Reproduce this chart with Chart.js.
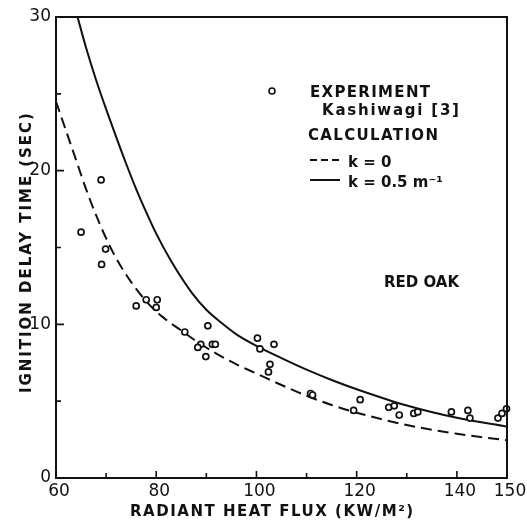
<!DOCTYPE html>
<html>
<head>
<meta charset="utf-8">
<script src="https://cdn.jsdelivr.net/npm/chart.js@4.4.1/dist/chart.umd.min.js"></script>
<style>
  html, body { margin: 0; padding: 0; background: #fff; }
  #wrap { width: 527px; height: 531px; }
</style>
</head>
<body>
<div id="wrap"><canvas id="chart" width="527" height="531"></canvas></div>
<script>
// experiment (Kashiwagi [3]) - radiant heat flux vs ignition delay
const expFlux = [65.0, 69.0, 69.9, 69.1, 76.0, 78.0, 80.2, 80.0, 85.7, 90.3, 88.9, 88.3, 91.2, 91.8, 89.9,
  100.2, 100.7, 103.5, 102.7, 102.4, 110.8, 111.2, 119.4, 120.7, 126.4, 127.5, 128.5, 131.4, 132.2,
  138.9, 142.2, 142.6, 148.2, 149.0, 149.9];
const expTime = [16.0, 19.4, 14.9, 13.9, 11.2, 11.6, 11.6, 11.1, 9.5, 9.9, 8.7, 8.5, 8.7, 8.7, 7.9,
  9.1, 8.4, 8.7, 7.4, 6.9, 5.5, 5.4, 4.4, 5.1, 4.6, 4.7, 4.1, 4.2, 4.3,
  4.3, 4.4, 3.9, 3.9, 4.2, 4.5];

// calculation, k = 0 (dashed)
const k0Flux = [60, 62, 64, 66, 68, 70, 72, 75, 78, 81, 85, 88, 92, 96, 100, 105, 110, 115, 120, 130, 140, 150];
const k0Time = [24.5, 22.6, 20.7, 18.8, 17.1, 15.6, 14.3, 12.75, 11.5, 10.55, 9.6, 8.9, 8.1, 7.4, 6.8, 6.05, 5.35, 4.75, 4.25, 3.45, 2.88, 2.45];

// calculation, k = 0.5 m^-1 (solid)
const k05Flux = [64.3, 66, 68, 70, 72, 74, 76, 78, 80, 83, 87, 90, 93, 96, 100, 105, 110, 115, 120, 130, 140, 150];
const k05Time = [30, 28.0, 25.9, 24.0, 22.2, 20.45, 18.8, 17.3, 15.9, 14.1, 12.1, 10.95, 10.1, 9.35, 8.6, 7.8, 7.05, 6.38, 5.78, 4.72, 3.92, 3.34];

const xTicks = [60, 70, 80, 90, 100, 110, 120, 130, 140, 150];
const xLabels = [60, 80, 100, 120, 140, 150];
const yTicks = [0, 5, 10, 15, 20, 25, 30];
const yLabels = [0, 10, 20, 30];

const FONT = "'DejaVu Sans', sans-serif";
const INK = '#111';

const pts = (xs, ys) => xs.map((x, i) => ({ x: x, y: ys[i] }));

// draw text stretched to a given width with letter spacing
function spaced(ctx, text, x, y, width, size) {
  ctx.font = 'bold ' + size + 'px ' + FONT;
  ctx.letterSpacing = '0px';
  const w0 = ctx.measureText(text).width;
  const n = [...text].length;
  const ls = Math.max(0, (width - w0) / Math.max(1, n - 1));
  ctx.letterSpacing = ls.toFixed(2) + 'px';
  ctx.fillText(text, x, y);
  ctx.letterSpacing = '0px';
}

const decor = {
  id: 'decor',
  afterDatasetsDraw(chart) {
    const { ctx, chartArea: a, scales: { x, y } } = chart;
    ctx.save();
    ctx.strokeStyle = INK;
    ctx.fillStyle = INK;

    // frame
    ctx.lineWidth = 2;
    ctx.strokeRect(a.left, a.top, a.right - a.left, a.bottom - a.top);

    // inward ticks
    ctx.lineWidth = 1.6;
    ctx.beginPath();
    xTicks.forEach(v => {
      const px = x.getPixelForValue(v);
      const len = xLabels.includes(v) ? 7 : 5;
      ctx.moveTo(px, a.bottom);
      ctx.lineTo(px, a.bottom - len);
    });
    yTicks.forEach(v => {
      const py = y.getPixelForValue(v);
      const len = yLabels.includes(v) ? 8 : 5;
      ctx.moveTo(a.left, py);
      ctx.lineTo(a.left + len, py);
    });
    ctx.stroke();

    // axis titles
    ctx.textAlign = 'left';
    ctx.textBaseline = 'alphabetic';
    spaced(ctx, 'RADIANT HEAT FLUX (KW/M²)', 130, 516, 283, 15);
    ctx.save();
    ctx.translate(31, 393);
    ctx.rotate(-Math.PI / 2);
    spaced(ctx, 'IGNITION DELAY TIME (SEC)', 0, 0, 280, 15);
    ctx.restore();

    // legend
    ctx.lineWidth = 1.6;
    ctx.beginPath();
    ctx.arc(272, 91, 3, 0, Math.PI * 2);
    ctx.stroke();
    spaced(ctx, 'EXPERIMENT', 310, 97, 120, 15);
    spaced(ctx, 'Kashiwagi [3]', 322, 115, 137, 15);
    spaced(ctx, 'CALCULATION', 308, 140, 130, 15);
    ctx.lineWidth = 2;
    ctx.setLineDash([7, 4]);
    ctx.beginPath();
    ctx.moveTo(310, 160);
    ctx.lineTo(343, 160);
    ctx.stroke();
    ctx.setLineDash([]);
    ctx.beginPath();
    ctx.moveTo(310, 180);
    ctx.lineTo(340, 180);
    ctx.stroke();
    spaced(ctx, 'k = 0', 348, 167, 42, 15);
    spaced(ctx, 'k = 0.5 m⁻¹', 348, 187, 92, 15);

    spaced(ctx, 'RED OAK', 384, 287, 72, 15);
    ctx.restore();
  }
};

new Chart(document.getElementById('chart'), {
  type: 'scatter',
  data: {
    datasets: [
      {
        label: 'EXPERIMENT',
        data: pts(expFlux, expTime),
        showLine: false,
        pointStyle: 'circle',
        pointRadius: 3,
        pointBorderWidth: 1.7,
        pointBorderColor: INK,
        pointBackgroundColor: '#fff',
        clip: false
      },
      {
        label: 'k = 0',
        data: pts(k0Flux, k0Time),
        showLine: true,
        borderColor: INK,
        borderWidth: 2,
        borderDash: [11, 6],
        pointRadius: 0,
        cubicInterpolationMode: 'monotone'
      },
      {
        label: 'k = 0.5',
        data: pts(k05Flux, k05Time),
        showLine: true,
        borderColor: INK,
        borderWidth: 2,
        pointRadius: 0,
        cubicInterpolationMode: 'monotone'
      }
    ]
  },
  options: {
    responsive: false,
    animation: false,
    devicePixelRatio: 1,
    layout: { padding: { top: 17, right: 20, left: 0, bottom: 0 } },
    plugins: { legend: { display: false }, tooltip: { enabled: false } },
    scales: {
      x: {
        type: 'linear',
        min: 60,
        max: 150,
        afterFit: s => { s.height = 53; },
        afterBuildTicks: s => { s.ticks = xTicks.map(v => ({ value: v })); },
        grid: { display: false, drawTicks: false },
        border: { display: false },
        ticks: {
          autoSkip: false,
          maxRotation: 0,
          padding: 3,
          labelOffset: 3,
          color: INK,
          font: { family: FONT, size: 17 },
          callback: v => xLabels.includes(v) ? String(v) : ''
        }
      },
      y: {
        type: 'linear',
        min: 0,
        max: 30,
        afterFit: s => { s.width = 56; },
        afterBuildTicks: s => { s.ticks = yTicks.map(v => ({ value: v })); },
        grid: { display: false, drawTicks: false },
        border: { display: false },
        ticks: {
          autoSkip: false,
          padding: 5,
          color: INK,
          font: { family: FONT, size: 17 },
          callback: v => yLabels.includes(v) ? String(v) : ''
        }
      }
    }
  },
  plugins: [decor]
});
</script>
</body>
</html>
